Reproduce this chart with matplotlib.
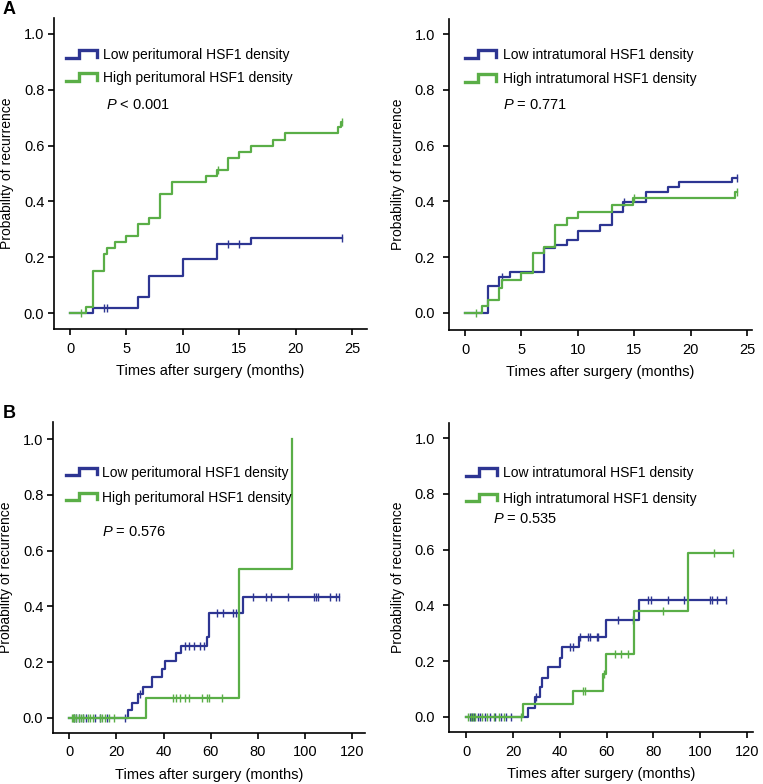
import matplotlib
matplotlib.use('Agg')
import matplotlib.pyplot as plt
import numpy as np
from matplotlib.lines import Line2D

plt.rcParams['font.family'] = ['Liberation Sans', 'DejaVu Sans']
plt.rcParams['mathtext.fontset'] = 'custom'
plt.rcParams['mathtext.rm'] = 'Liberation Sans'
plt.rcParams['mathtext.it'] = 'Liberation Sans:italic'

BLUE = '#2D3592'
GREEN = '#5AAE47'

# ---- A: 0-25 months, peritumoral ----
a1_low_t = [2.0, 6.0, 7.0, 10.0, 13.0, 16.0]
a1_low_p = [0.018, 0.057, 0.134, 0.193, 0.248, 0.270]
a1_low_cens = [3.0, 3.3, 14.0, 15.0, 24.1]
a1_high_t = [1.4, 2.0, 3.0, 3.3, 4.0, 5.0, 6.0, 7.0, 8.0, 9.0, 12.0, 13.0,
             14.0, 15.0, 16.0, 18.0, 19.0, 23.7, 24.0]
a1_high_p = [0.022, 0.149, 0.212, 0.233, 0.256, 0.277, 0.320, 0.340, 0.427,
             0.469, 0.490, 0.511, 0.556, 0.578, 0.600, 0.621, 0.644, 0.666, 0.686]
a1_high_cens = [1.0, 13.1, 24.1]

# ---- A: 0-25 months, intratumoral ----
a2_low_t = [2.0, 3.0, 4.0, 7.0, 8.0, 9.0, 10.0, 12.0, 13.0, 14.0, 16.0, 18.0, 19.0, 23.7]
a2_low_p = [0.096, 0.130, 0.147, 0.233, 0.245, 0.263, 0.295, 0.314, 0.363,
            0.397, 0.432, 0.450, 0.468, 0.484]
a2_low_cens = [3.3, 14.1, 24.1]
a2_high_t = [1.5, 2.0, 3.0, 3.25, 5.0, 6.0, 7.0, 8.0, 9.0, 10.0, 13.0, 14.9, 23.9]
a2_high_p = [0.024, 0.047, 0.089, 0.118, 0.142, 0.215, 0.236, 0.315, 0.339,
             0.363, 0.388, 0.411, 0.435]
a2_high_cens = [1.0, 15.0, 24.1]

# ---- B: 0-120 months, peritumoral ----
b1_low_t = [24.8, 26.7, 29.0, 31.1, 34.9, 39.5, 40.6, 45.5, 47.4, 58.3, 59.3, 73.8]
b1_low_p = [0.028, 0.055, 0.085, 0.112, 0.146, 0.175, 0.205, 0.232, 0.258,
            0.291, 0.377, 0.433]
b1_low_cens = [2, 3, 4, 6, 7, 11, 13, 16, 23.5, 30, 49, 51, 53, 55.5, 57,
               62.5, 65.3, 69.5, 70.6, 77.8, 83.7, 85.4, 92.9, 103.8, 104.6,
               105.6, 110.6, 113.4, 114.6]
b1_high_t = [32.4, 72.0, 94.7]
b1_high_p = [0.072, 0.535, 1.0]
b1_high_cens = [1, 1.5, 2, 3, 4, 5, 6, 8, 9, 10, 13, 14, 15, 17, 19,
                44, 45.5, 47, 49, 51, 56.5, 58.5, 59.5, 65]

# ---- B: 0-120 months, intratumoral ----
b2_low_t = [26.3, 29.5, 31.6, 32.6, 34.9, 40.1, 41.1, 48.0, 59.8, 74.0]
b2_low_p = [0.033, 0.073, 0.109, 0.139, 0.179, 0.210, 0.250, 0.288, 0.347, 0.419]
b2_low_cens = [1.5, 2.5, 3.5, 5, 6, 8, 10, 12.5, 15, 17, 19, 29.8, 44.4, 45.8,
               48.7, 52.2, 53, 55.8, 56.5, 65, 71.4, 77.8, 78.9, 86.1, 93.2,
               104.2, 105.2, 107, 111]
b2_high_t = [24.5, 45.8, 58.6, 59.6, 71.9, 94.9]
b2_high_p = [0.047, 0.094, 0.153, 0.225, 0.381, 0.587]
b2_high_cens = [1, 2, 3, 4, 7, 9, 12, 14, 16, 23.5, 50.1, 50.8, 58.8, 63.6,
                66.1, 69.3, 84.0, 106.0, 114.1]

W, H = 763, 784
fig = plt.figure(figsize=(W / 100, H / 100), dpi=100)


def fxy(px, py):
    return px / W, 1 - py / H


def px_axes(l, t, r, b):
    return fig.add_axes([l / W, 1 - b / H, (r - l) / W, (b - t) / H])


def value_at(t_ev, p_ev, t):
    i = np.searchsorted(t_ev, t, side='right')
    return 0.0 if i == 0 else p_ev[i - 1]


def km(ax, t_ev, p_ev, cens, color):
    end = max(max(cens), t_ev[-1])
    xs = [0] + list(t_ev) + [end]
    ys = [0] + list(p_ev) + [p_ev[-1]]
    ax.step(xs, ys, where='post', color=color, lw=1.6)
    cy = [value_at(t_ev, p_ev, c) for c in cens]
    ax.plot(cens, cy, ls='none', marker='|', ms=6, mew=1.0, color=color)


def setup(ax, xlim, ylim, xticks, ypad):
    ax.set_xlim(*xlim)
    ax.set_ylim(*ylim)
    ax.set_xticks(xticks)
    ax.set_yticks([0, 0.2, 0.4, 0.6, 0.8, 1.0])
    ax.set_yticklabels(['0.0', '0.2', '0.4', '0.6', '0.8', '1.0'])
    for s in ['top', 'right']:
        ax.spines[s].set_visible(False)
    for s in ['left', 'bottom']:
        ax.spines[s].set_linewidth(1.2)
    ax.tick_params(axis='both', direction='out', length=4, width=1.2, labelsize=10.5)
    ax.tick_params(axis='x', pad=5)
    ax.tick_params(axis='y', pad=ypad)
    ax.set_xlabel('Times after surgery (months)', fontsize=10.5, labelpad=6)
    ax.set_ylabel('Probability of recurrence', fontsize=10, labelpad=7)


def key(px, pyc, color):
    xs = [px, px + 13, px + 13, px + 31, px + 31]
    ys = [pyc + 3.5, pyc + 3.5, pyc - 4, pyc - 4, pyc + 2.5]
    fx = [x / W for x in xs]
    fy = [1 - y / H for y in ys]
    fig.add_artist(Line2D(fx, fy, transform=fig.transFigure, color=color,
                          lw=2.4, solid_joinstyle='miter'))


def legend(text_x, base_low, base_high, label_low, label_high, key_x,
           p_x, p_base, p_text):
    key(key_x, base_low - 5, BLUE)
    key(key_x, base_high - 5, GREEN)
    fig.text(*fxy(text_x, base_low), label_low, fontsize=10, va='baseline')
    fig.text(*fxy(text_x, base_high), label_high, fontsize=10, va='baseline')
    fig.text(*fxy(p_x, p_base), p_text, fontsize=10.5, va='baseline')


# A left
ax1 = px_axes(54, 18, 367, 329)
km(ax1, a1_low_t, a1_low_p, a1_low_cens, BLUE)
km(ax1, a1_high_t, a1_high_p, a1_high_cens, GREEN)
setup(ax1, (-1.42, 26.3), (-0.057, 1.057), [0, 5, 10, 15, 20, 25], 3)
legend(103, 59.3, 82.3, 'Low peritumoral HSF1 density',
       'High peritumoral HSF1 density', 66, 106, 109.3, r'$P$ < 0.001')

# A right
ax2 = px_axes(449, 19, 752, 330)
km(ax2, a2_low_t, a2_low_p, a2_low_cens, BLUE)
km(ax2, a2_high_t, a2_high_p, a2_high_cens, GREEN)
setup(ax2, (-1.42, 25.44), (-0.061, 1.054), [0, 5, 10, 15, 20, 25], 6)
legend(503, 59.3, 83.3, 'Low intratumoral HSF1 density',
       'High intratumoral HSF1 density', 465, 503, 109.3, r'$P$ = 0.771')

# B left
ax3 = px_axes(53, 422, 365, 733)
km(ax3, b1_low_t, b1_low_p, b1_low_cens, BLUE)
km(ax3, b1_high_t, b1_high_p, b1_high_cens, GREEN)
setup(ax3, (-6.9, 125.5), (-0.054, 1.061), [0, 20, 40, 60, 80, 100, 120], 3)
legend(102, 476.7, 501.7, 'Low peritumoral HSF1 density',
       'High peritumoral HSF1 density', 66, 102, 536, r'$P$ = 0.576')

# B right
ax4 = px_axes(449, 423, 753, 732)
km(ax4, b2_low_t, b2_low_p, b2_low_cens, BLUE)
km(ax4, b2_high_t, b2_high_p, b2_high_cens, GREEN)
setup(ax4, (-7.3, 122.5), (-0.054, 1.054), [0, 20, 40, 60, 80, 100, 120], 6)
legend(503, 477.3, 502.7, 'Low intratumoral HSF1 density',
       'High intratumoral HSF1 density', 466, 493, 523.3, r'$P$ = 0.535')

fig.text(*fxy(3, 14), 'A', fontsize=13, fontweight='bold', va='baseline')
fig.text(*fxy(3, 418), 'B', fontsize=13, fontweight='bold', va='baseline')

fig.savefig('out.png', dpi=100)
